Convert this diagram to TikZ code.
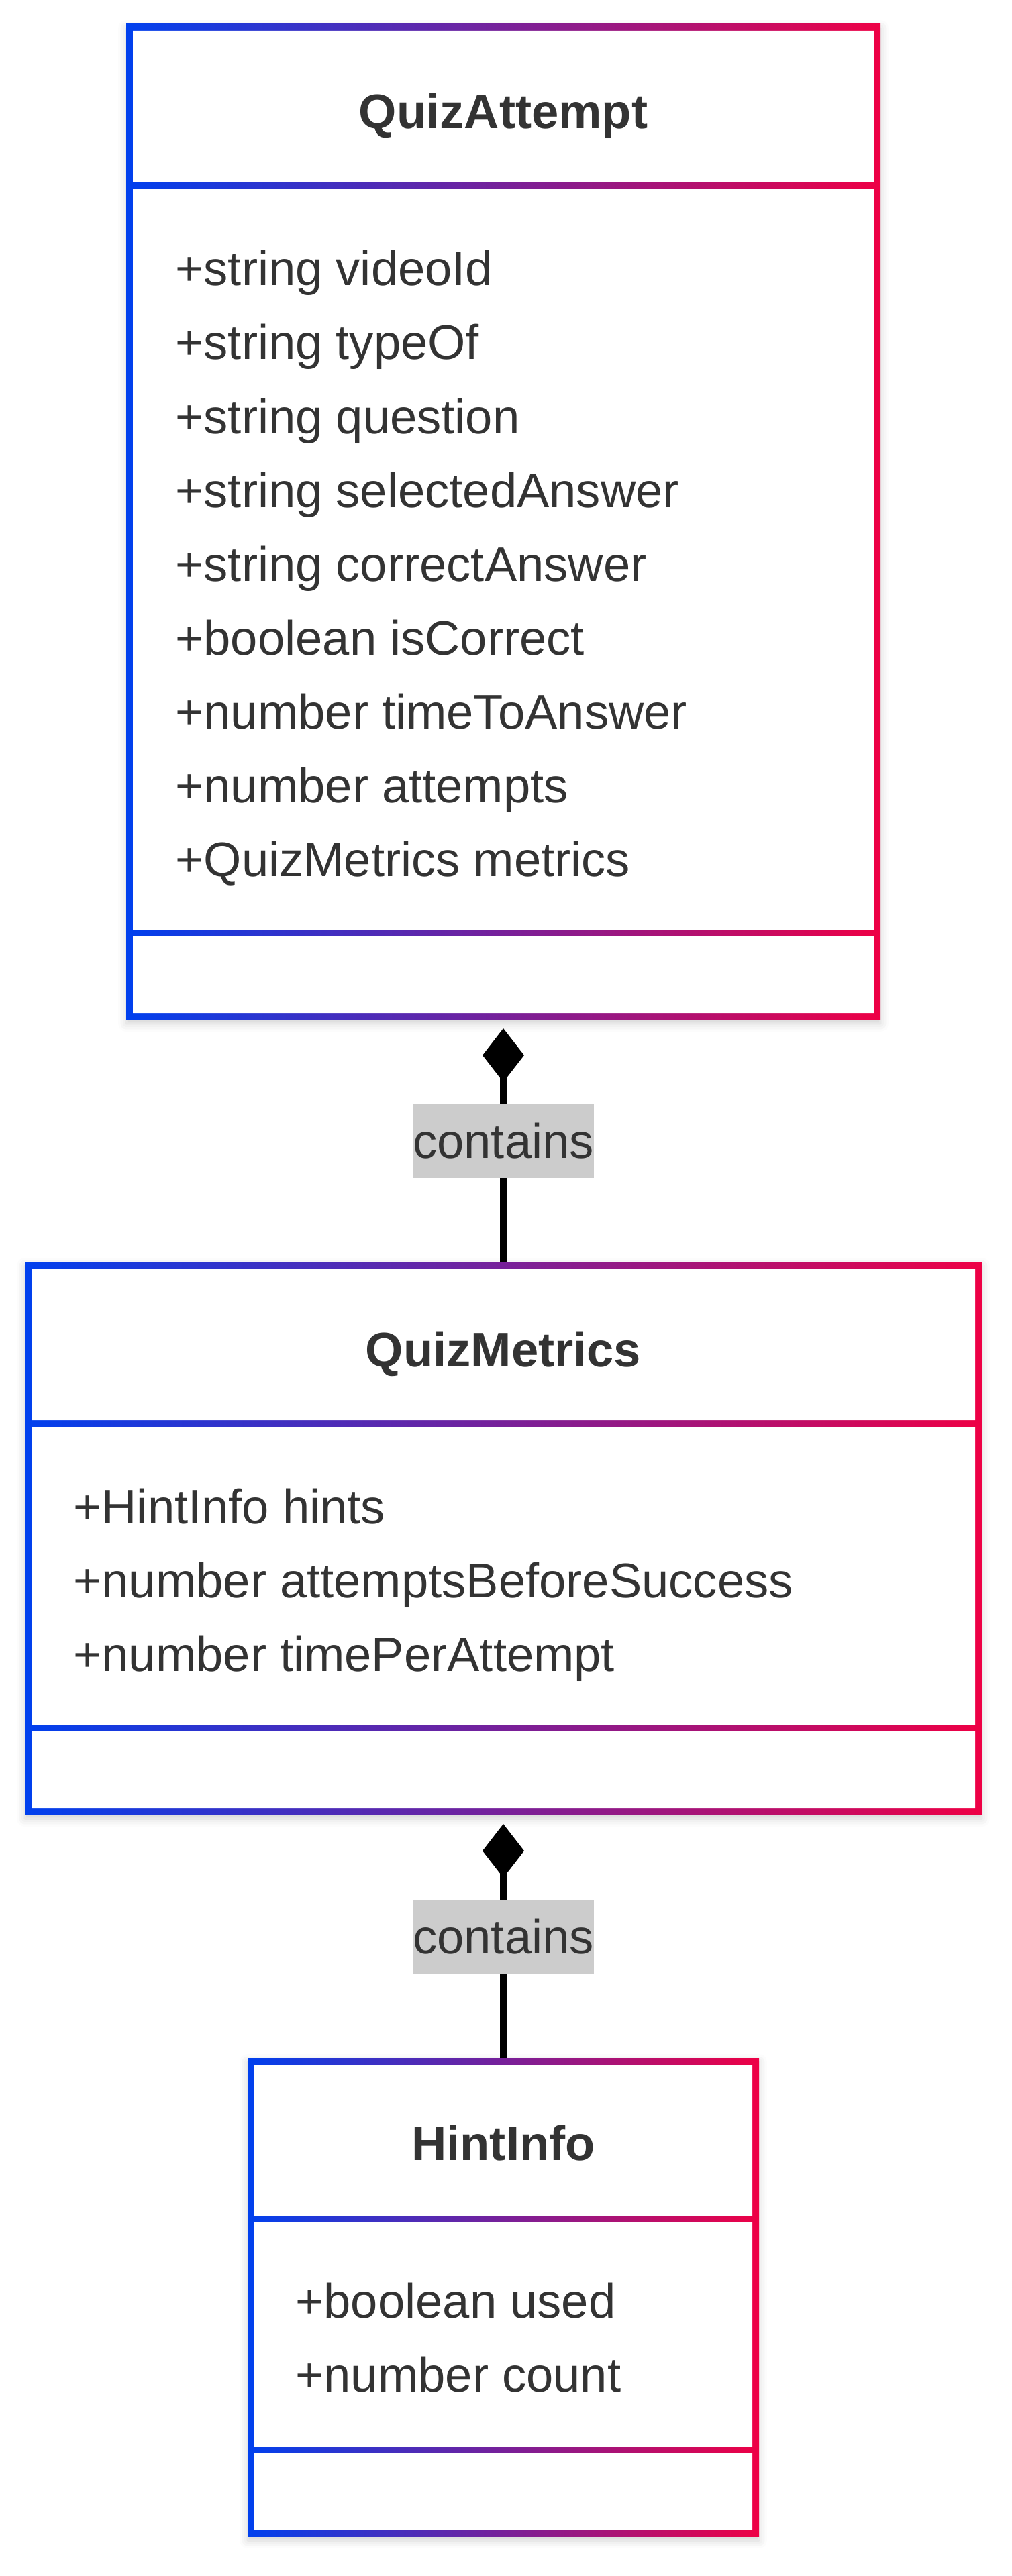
\documentclass[tikz,border=0pt]{standalone}
\usepackage{fontspec}
\setmainfont{Liberation Sans}
\usetikzlibrary{arrows.meta,shadows.blur}
\definecolor{umlblue}{HTML}{0040EE}
\definecolor{umlred}{HTML}{EE0045}
\definecolor{umltext}{HTML}{333333}
\definecolor{umllabel}{HTML}{CCCCCC}
\tikzset{
  classbox/.style={rectangle, inner sep=0pt, outer sep=0pt, left color=umlblue, right color=umlred,
    blur shadow={shadow xshift=0pt, shadow yshift=-0.06cm, shadow blur radius=0.12cm, shadow opacity=18}},
  classname/.style={anchor=base, text=umltext, font=\fontsize{20.6}{24}\selectfont\bfseries},
  member/.style={anchor=base west, text=umltext, font=\fontsize{20.6}{24}\selectfont},
  edgelabel/.style={fill=umllabel, text=umltext, inner xsep=0pt, inner ysep=0pt, minimum height=1.1cm,
    font=\fontsize{20.6}{24}\selectfont},
  composition/.style={line width=0.1cm, -{Diamond[length=0.8cm, width=0.62cm]}},
}
\begin{document}
\begin{tikzpicture}
            \useasboundingbox (0,0) rectangle (15.08,-38.40);

            \node[classbox, minimum width=11.24cm, minimum height=14.84cm] (QuizAttempt) at (7.5,-7.78) {};
            \node[classbox, minimum width=14.26cm, minimum height=8.24cm] (QuizMetrics) at (7.5,-22.93) {};
            \node[classbox, minimum width=7.62cm, minimum height=7.13cm] (HintInfo) at (7.5,-34.245) {};

            % compartments
            \fill[white] (1.98,-0.46) rectangle (13.02,-2.72) (1.98,-2.82) rectangle (13.02,-13.86) (1.98,-13.96) rectangle (13.02,-15.10);
            \fill[white] (0.47,-18.91) rectangle (14.53,-21.17) (0.47,-21.27) rectangle (14.53,-25.71) (0.47,-25.81) rectangle (14.53,-26.95);
            \fill[white] (3.79,-30.78) rectangle (11.21,-33.03) (3.79,-33.13) rectangle (11.21,-36.47) (3.79,-36.57) rectangle (11.21,-37.71);

            \node[classname] (qaName) at (7.5,-1.92) {QuizAttempt};
            \node[member] (qaVideo) at (2.49,-4.26) {+string videoId};
            \node[member] (qaType) at (2.49,-5.36) {+string typeOf};
            \node[member] (qaQuestion) at (2.49,-6.46) {+string question};
            \node[member] (qaSelected) at (2.49,-7.56) {+string selectedAnswer};
            \node[member] (qaCorrectAns) at (2.49,-8.66) {+string correctAnswer};
            \node[member] (qaIsCorrect) at (2.49,-9.76) {+boolean isCorrect};
            \node[member] (qaTime) at (2.49,-10.86) {+number timeToAnswer};
            \node[member] (qaAttempts) at (2.49,-11.96) {+number attempts};
            \node[member] (qaMetrics) at (2.49,-13.06) {+QuizMetrics metrics};

            \node[classname] (qmName) at (7.5,-20.37) {QuizMetrics};
            \node[member] (qmHints) at (0.97,-22.71) {+HintInfo hints};
            \node[member] (qmBefore) at (0.97,-23.81) {+number attemptsBeforeSuccess};
            \node[member] (qmPer) at (0.97,-24.91) {+number timePerAttempt};

            \node[classname] (hiName) at (7.5,-32.20) {HintInfo};
            \node[member] (hiUsed) at (4.28,-34.55) {+boolean used};
            \node[member] (hiCount) at (4.28,-35.65) {+number count};

            \draw[composition, shorten >=0.13cm] (QuizMetrics) to node[edgelabel] (containsA) {contains} (QuizAttempt);
            \draw[composition, shorten >=0.14cm] (HintInfo) to node[edgelabel] (containsB) {contains} (QuizMetrics);
        \end{tikzpicture}
\end{document}
